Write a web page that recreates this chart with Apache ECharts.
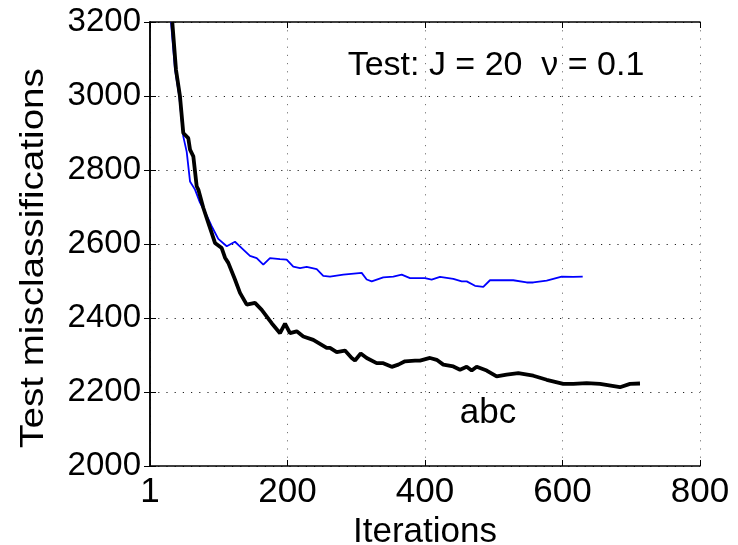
<!DOCTYPE html>
<html>
<head>
<meta charset="utf-8">
<script src="https://cdn.jsdelivr.net/npm/echarts@6/dist/echarts.min.js"></script>
<style>html,body{margin:0;padding:0;background:#fff}#c{width:738px;height:545px}</style>
</head>
<body>
<div id="c"></div>
<script>
const xTicks = [0, 200, 400, 600, 800];
const xTickLabels = ['1', '200', '400', '600', '800'];
const yTicks = [2000, 2200, 2400, 2600, 2800, 3000, 3200];

const blueIter = [30.5,36.4,42.6,48.4,53.4,58.2,65.5,72.7,80,89.7,99.3,111.6,123.6,133.4,145.4,155.2,164.8,174.5,189,198.8,208.4,218.2,227.9,242.5,252,261.8,281.2,307.9,315.2,322.5,339.3,353.9,366.1,378.2,400,409.7,421.8,441.2,453.4,460.7,472.7,484.8,494.5,509,528.4,547.9,557.5,577,586.6,598.8,615.7,629.4];
const blueVal = [3200,3071,2999,2891,2849,2769,2747,2712,2687,2648,2614,2594,2606,2589,2568,2562,2544,2562,2559,2558,2539,2535,2538,2532,2514,2512,2517,2522,2504,2499,2510,2512,2517,2508,2508,2504,2511,2506,2499,2499,2487,2484,2502,2502,2502,2496,2496,2501,2506,2512,2511,2512];

const blackIter = [32.4,37.8,43.6,48.4,55.7,58.2,63,67.9,70.3,77.5,84.8,89.7,94.5,104.3,109.1,113.9,123.6,130.9,140.7,152.7,162.5,177,189.1,196.4,203.6,213.4,223,237.5,257,261.8,271.6,283.6,293.4,298.2,306.5,315.2,329.7,339.3,351.6,361.2,370.9,385.5,392.7,407.3,417,426.6,441.2,450.9,460.6,467.9,475.2,489.7,504.2,518.8,535.7,557.5,577,601.1,615.7,635.2,654.5,683.6,698.2,712.7];
const blackVal = [3200,3071,2999,2900,2886,2855,2837,2756,2747,2698,2657,2630,2603,2589,2563,2549,2504,2468,2436,2441,2422,2386,2359,2385,2359,2364,2350,2341,2319,2319,2308,2312,2292,2285,2304,2292,2278,2278,2268,2274,2283,2285,2285,2292,2287,2274,2269,2260,2268,2258,2268,2258,2242,2247,2251,2244,2233,2222,2222,2224,2222,2213,2222,2223];

const titleText = 'Test: J = 20  \u03bd = 0.1';
const annotText = 'abc';
const xName = 'Iterations';
const yName = 'Test misclassifications';

const zip = (a, b) => a.map((v, i) => [v, b[i]]);
const FONT = '"Liberation Sans", Arial, Helvetica, sans-serif';
const dottedH = { show: true, lineStyle: { color: '#222', type: [1.2, 7], width: 1 } };
const dottedV = { show: true, lineStyle: { color: '#777', type: [1.2, 7], width: 1 } };

const chart = echarts.init(document.getElementById('c'), null, { renderer: 'canvas' });
chart.setOption({
  animation: false,
  backgroundColor: '#fff',
  grid: { left: 150, right: 38, top: 22, bottom: 79, containLabel: false, outerBoundsMode: 'none' },
  xAxis: [{
    type: 'value', min: xTicks[0], max: xTicks[xTicks.length - 1], interval: 200,
    position: 'bottom',
    name: xName, nameLocation: 'middle', nameGap: 44,
    nameTextStyle: { fontFamily: FONT, fontSize: 35, color: '#000' },
    axisLine: { show: true, lineStyle: { color: '#000', width: 1.5 } },
    axisTick: { show: true, inside: true, length: 6, lineStyle: { color: '#000' } },
    axisLabel: { margin: 9, fontFamily: FONT, fontSize: 35, color: '#000',
      formatter: v => xTickLabels[xTicks.indexOf(v)] },
    splitLine: dottedV
  }, {
    type: 'value', min: 0, max: 800, interval: 200, position: 'top',
    axisLine: { show: true, lineStyle: { color: '#000', width: 1.5 } },
    axisTick: { show: true, inside: true, length: 6, lineStyle: { color: '#000' } },
    axisLabel: { show: false }, splitLine: { show: false }
  }],
  yAxis: [{
    type: 'value', min: yTicks[0], max: yTicks[yTicks.length - 1], interval: 200,
    position: 'left',
    axisLine: { show: true, lineStyle: { color: '#000', width: 1.5 } },
    axisTick: { show: true, inside: true, length: 6, lineStyle: { color: '#000' } },
    axisLabel: { margin: 9, fontFamily: FONT, fontSize: 33, color: '#000',
      formatter: v => String(v) },
    splitLine: dottedH
  }, {
    type: 'value', min: 2000, max: 3200, interval: 200, position: 'right',
    axisLine: { show: true, lineStyle: { color: '#000', width: 1.5 } },
    axisTick: { show: true, inside: true, length: 6, lineStyle: { color: '#000' } },
    axisLabel: { show: false }, splitLine: { show: false }
  }],
  series: [{
    type: 'line', name: 'blue', xAxisIndex: 0, yAxisIndex: 0,
    data: zip(blueIter, blueVal), showSymbol: false, clip: true,
    lineStyle: { color: '#0000ff', width: 1.8 }, z: 3
  }, {
    type: 'line', name: 'black', xAxisIndex: 0, yAxisIndex: 0,
    data: zip(blackIter, blackVal), showSymbol: false, clip: true,
    lineStyle: { color: '#000', width: 3.8 }, z: 4
  }],
  graphic: [{
    type: 'text', x: 496, y: 66,
    style: { text: titleText, fontFamily: FONT, fontSize: 34, fill: '#000', align: 'center', verticalAlign: 'middle' }
  }, {
    type: 'text', x: 488, y: 413,
    style: { text: annotText, fontFamily: FONT, fontSize: 35, fill: '#000', align: 'center', verticalAlign: 'middle' }
  }, {
    type: 'text', x: 34, y: 258, rotation: Math.PI / 2, scaleX: 1.17,
    style: { text: yName, fontFamily: FONT, fontSize: 33, fill: '#000', align: 'center', verticalAlign: 'middle' }
  }]
});
</script>
</body>
</html>
